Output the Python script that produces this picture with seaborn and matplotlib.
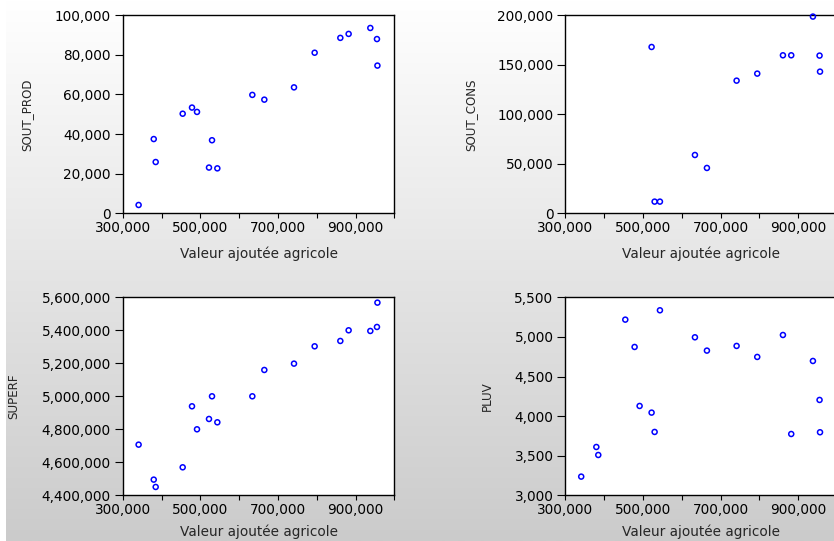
import numpy as np
import pandas as pd
import matplotlib
matplotlib.use("Agg")
import matplotlib.pyplot as plt
import matplotlib.ticker as mticker
import seaborn as sns

# Valeur ajoutee agricole (x for every panel)
va_agri = [341000, 380000, 385000, 454600, 478600, 491500, 522400, 530200, 543900,
           634100, 665000, 741500, 794700, 860900, 882300, 938200, 955300, 956500]
sout_prod = [4200, 37500, 25900, 50300, 53400, 51200, 23100, 36900, 22700,
             59800, 57400, 63600, 81100, 88600, 90600, 93600, 88000, 74600]
sout_cons = [np.nan, np.nan, np.nan, np.nan, np.nan, np.nan, 168000, 11800, 11800,
             58900, 45800, 134000, 141100, 159600, 159600, 198700, 159300, 143100]
superf = [4707000, 4495000, 4450500, 4569700, 4939400, 4800000, 4862600, 5000000, 4842400,
          5000000, 5159600, 5198000, 5303000, 5335400, 5400000, 5396000, 5420200, 5567700]
pluv = [3236, 3610, 3509, 5218, 4873, 4128, 4044, 3800, 5336,
        4995, 4827, 4886, 4747, 5024, 3774, 4696, 4204, 3796]

x_label = "Valeur ajoutée agricole"

df = pd.DataFrame({"VA": va_agri, "SOUT_PROD": sout_prod, "SOUT_CONS": sout_cons,
                   "SUPERF": superf, "PLUV": pluv})

sns.set_style("white")
plt.rcParams['font.family'] = ['DejaVu Sans']
plt.rcParams['font.size'] = 9.8

W, H = 834, 541
fig = plt.figure(figsize=(W / 100, H / 100), dpi=100)
fig.patch.set_facecolor("white")

# grey gradient background
bg = fig.add_axes([6 / W, 0, 1, 1], zorder=-10)
grad = np.linspace(255, 203, 256).reshape(-1, 1) / 255.0
bg.imshow(np.dstack([grad, grad, grad]), aspect="auto", extent=[0, 1, 0, 1])
bg.set_axis_off()

panels = [
    # (column, left px, top px, y ticks, ylabel right edge px, xlabel offset)
    ("SOUT_PROD", 122.7, 15.3, np.arange(0, 100001, 20000), 33, -0.17),
    ("SOUT_CONS", 565.3, 15.3, np.arange(0, 200001, 50000), 477, -0.17),
    ("SUPERF", 122.7, 297.3, np.arange(4400000, 5600001, 200000), 20, -0.148),
    ("PLUV", 565.3, 297.3, np.arange(3000, 5501, 500), 494, -0.148),
]
aw, ah = 271.6, 198.0

for col, left, top, yt, ylab_x, xlab_y in panels:
    ax = fig.add_axes([left / W, (H - top - ah) / H, aw / W, ah / H])
    ax.set_facecolor("white")
    sns.scatterplot(data=df, x="VA", y=col, ax=ax, marker="o", s=13,
                    facecolors="none", edgecolor="#0000ff", linewidth=1.1,
                    clip_on=False, zorder=5)
    ax.set_xlim(300000, 1000000)
    ax.set_ylim(yt[0], yt[-1])
    ax.set_xticks([300000, 500000, 700000, 900000])
    ax.set_xticks([400000, 600000, 800000, 1000000], minor=True)
    ax.set_yticks(yt)
    fmt = mticker.FuncFormatter(lambda v, p: f"{int(round(v)):,}")
    ax.xaxis.set_major_formatter(fmt)
    ax.yaxis.set_major_formatter(fmt)
    ax.tick_params(axis="x", which="both", direction="out", length=3.8, width=0.8,
                   pad=1.5, colors="black", bottom=True)
    ax.tick_params(axis="y", direction="out", length=5.5, width=0.8, pad=3,
                   colors="black", left=True)
    for sp in ax.spines.values():
        sp.set_color("black")
        sp.set_linewidth(1.0)
    ax.set_xlabel(x_label)
    ax.set_ylabel(col, fontsize=8.6)
    ax.xaxis.set_label_coords(0.5, xlab_y)
    ax.yaxis.set_label_coords((ylab_x - left) / aw, 0.5)

fig.savefig("out.png", dpi=100)
